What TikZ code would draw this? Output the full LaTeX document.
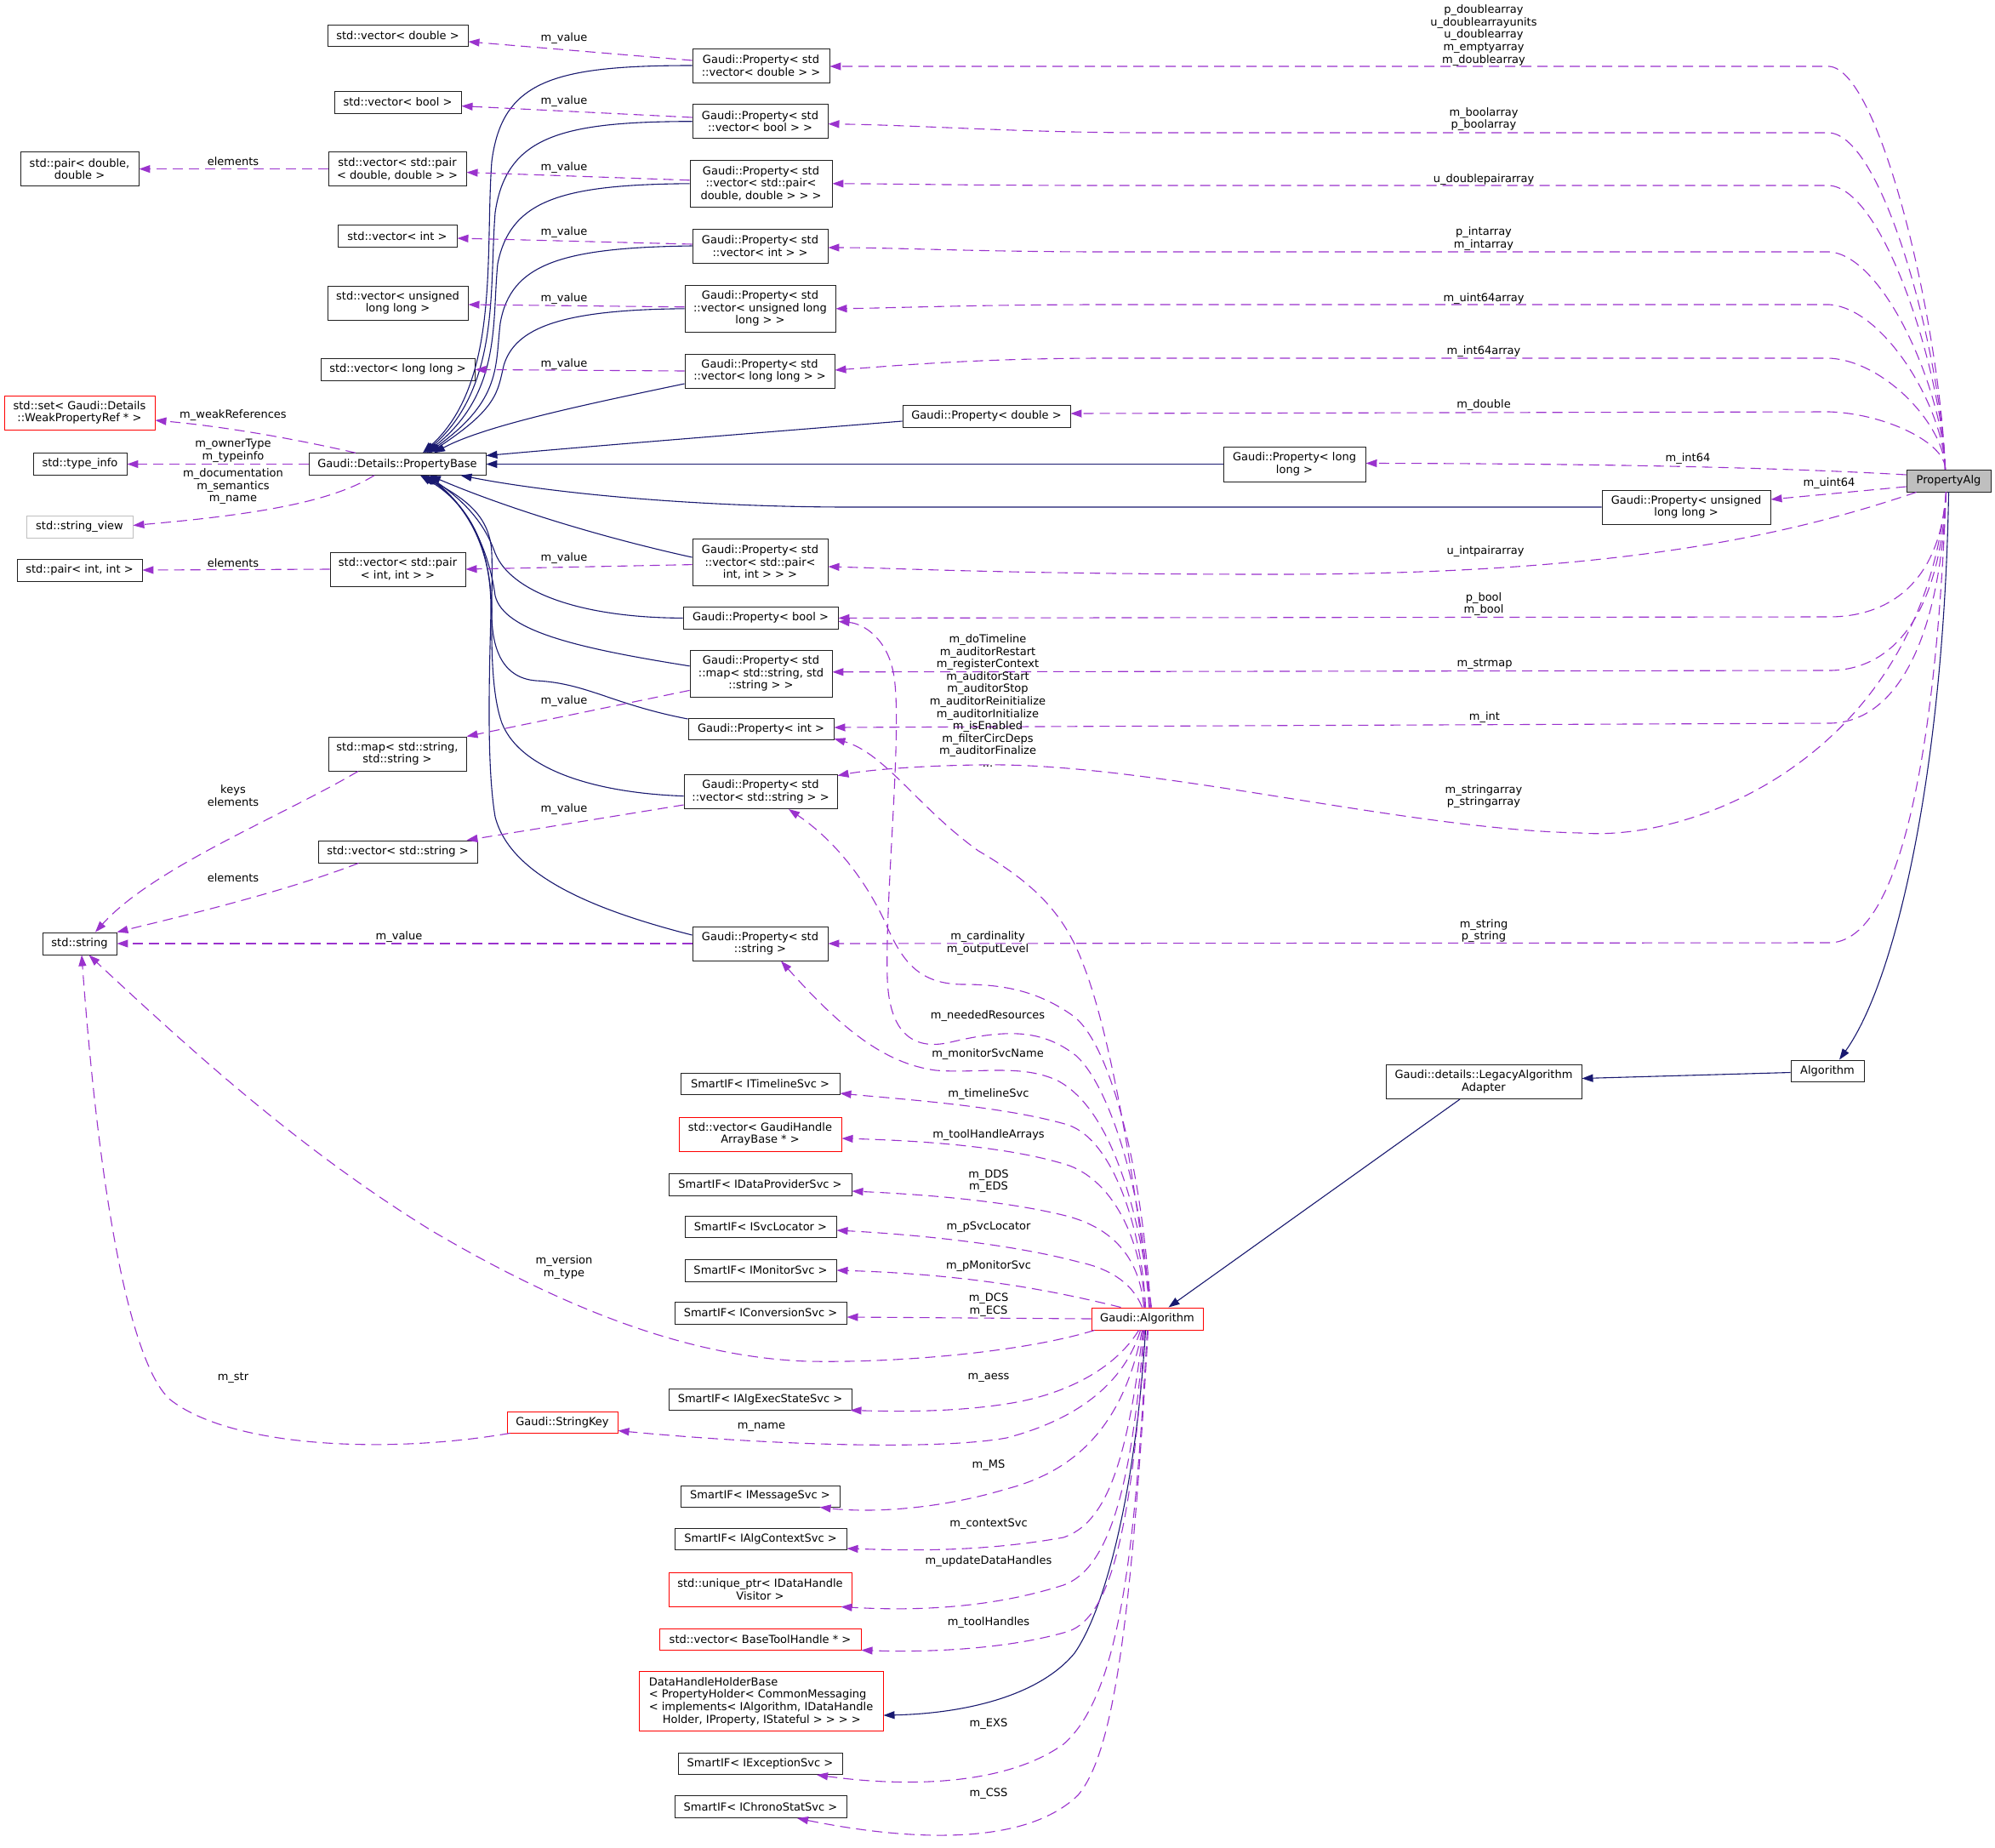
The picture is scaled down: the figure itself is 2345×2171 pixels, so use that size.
\documentclass[tikz,border=0pt]{standalone}
\usepackage{fontspec}
\setmainfont{DejaVu Sans}
\usetikzlibrary{arrows.meta,calc}
\definecolor{navyc}{HTML}{191970}
\definecolor{purp}{HTML}{9A32CD}
\definecolor{gry}{HTML}{BFBFBF}
\definecolor{bord}{HTML}{202020}
\tikzset{
 box/.style={draw=bord, line width=0.95pt, fill=white, rectangle, inner sep=0pt, align=center, font=\fontsize{13}{14.6}\selectfont},
 redbox/.style={box, draw=red},
 sz/.style 2 args={minimum width=#1pt, minimum height=#2pt},
 lbl/.style={inner sep=0pt, align=center, font=\fontsize{13}{14.6}\selectfont},
 inh/.style={draw=navyc, line width=1.1pt, -{Triangle[length=13pt,width=9pt]}},
 use/.style={draw=purp, line width=1.1pt, dash pattern=on 12pt off 7pt, -{Triangle[length=13pt,width=9pt]}},
}
\begin{document}
\begin{tikzpicture}[x=1pt,y=-1pt]
\useasboundingbox (0,0) rectangle (2345,2171);
\fill[white] (0,0) rectangle (2345,2171);
% ---------------- nodes ----------------
\node[box,sz={165}{25}] (vdouble) at (467.5,41.5) {std::vector< double >};
\node[box,sz={161}{40}] (pvdouble) at (894.5,77) {Gaudi::Property< std\\::vector< double > >};
\node[box,sz={149}{26}] (vbool) at (467.5,120) {std::vector< bool >};
\node[box,sz={159}{40}] (pvbool) at (893.5,142.7) {Gaudi::Property< std\\::vector< bool > >};
\node[box,sz={139}{40}] (pairdd) at (93.5,198.6) {std::pair< double,\\double >};
\node[box,sz={162}{40}] (vpairdd) at (467,198.6) {std::vector< std::pair\\< double, double > >};
\node[box,sz={167}{54.5}] (pvpairdd) at (894.5,215.8) {Gaudi::Property< std\\::vector< std::pair<\\double, double > > >};
\node[box,sz={140}{26}] (vint) at (467,277.5) {std::vector< int >};
\node[box,sz={159}{40}] (pvint) at (893.5,289) {Gaudi::Property< std\\::vector< int > >};
\node[box,sz={165}{40}] (vull) at (467.5,356) {std::vector< unsigned\\long long >};
\node[box,sz={177}{54.5}] (pvull) at (893.5,362.8) {Gaudi::Property< std\\::vector< unsigned long\\long > >};
\node[box,sz={181}{25.5}] (vll) at (467.5,434.4) {std::vector< long long >};
\node[box,sz={176}{40}] (pvll) at (893,436) {Gaudi::Property< std\\::vector< long long > >};
\node[redbox,sz={177}{40}] (wset) at (93.5,485) {std::set< Gaudi::Details\\::WeakPropertyRef * >};
\node[box,sz={110}{25.5}] (tinfo) at (94,545.5) {std::type\_info};
\node[box,sz={208}{25.5}] (pbase) at (467,545.5) {Gaudi::Details::PropertyBase};
\node[box,draw=gry,sz={125}{26}] (sview) at (93.5,619.5) {std::string\_view};
\node[box,sz={147}{26}] (pairii) at (93.5,670) {std::pair< int, int >};
\node[box,sz={159}{40}] (vpairii) at (467.5,669) {std::vector< std::pair\\< int, int > >};
\node[box,sz={159}{55}] (pvpairii) at (893.5,661) {Gaudi::Property< std\\::vector< std::pair<\\int, int > > >};
\node[box,sz={182}{25.5}] (pbool) at (894,726.4) {Gaudi::Property< bool >};
\node[box,sz={167}{54.5}] (pmap) at (894.5,791.8) {Gaudi::Property< std\\::map< std::string, std\\::string > >};
\node[box,sz={171}{25.5}] (pint) at (894.5,857) {Gaudi::Property< int >};
\node[box,sz={162}{40}] (smap) at (467,886) {std::map< std::string,\\std::string >};
\node[box,sz={180}{40}] (pvstring) at (894,930.6) {Gaudi::Property< std\\::vector< std::string > >};
\node[box,sz={187}{26}] (vstring) at (467.5,1001) {std::vector< std::string >};
\node[box,sz={87}{26}] (sstring) at (93.5,1109) {std::string};
\node[box,sz={159}{40}] (pstring) at (893.5,1109) {Gaudi::Property< std\\::string >};
\node[box,sz={197}{26}] (pdouble) at (1159.5,489) {Gaudi::Property< double >};
\node[box,sz={167}{41}] (pll) at (1521.5,545.5) {Gaudi::Property< long\\long >};
\node[box,sz={198}{40}] (pull) at (1982,596) {Gaudi::Property< unsigned\\long long >};
\node[box,fill=gry,sz={99}{26}] (palg) at (2290.5,565) {PropertyAlg};
\node[box,sz={86}{25}] (algo) at (2148,1258.5) {Algorithm};
\node[box,sz={230}{40}] (legacy) at (1744,1271.5) {Gaudi::details::LegacyAlgorithm\\Adapter};
\node[redbox,sz={131}{26}] (galg) at (1348.5,1550) {Gaudi::Algorithm};
\node[box,sz={187}{25}] (timeline) at (893.5,1274) {SmartIF< ITimelineSvc >};
\node[redbox,sz={191}{40}] (gharr) at (893.5,1333) {std::vector< GaudiHandle\\ArrayBase * >};
\node[box,sz={215}{26}] (dprov) at (893.5,1392) {SmartIF< IDataProviderSvc >};
\node[box,sz={178}{25}] (svcloc) at (894,1441.5) {SmartIF< ISvcLocator >};
\node[box,sz={178}{26}] (monsvc) at (894,1493) {SmartIF< IMonitorSvc >};
\node[box,sz={202}{26}] (convsvc) at (894,1543) {SmartIF< IConversionSvc >};
\node[box,sz={215}{25}] (aess) at (893.5,1644.5) {SmartIF< IAlgExecStateSvc >};
\node[redbox,sz={130}{25}] (skey) at (661,1671.5) {Gaudi::StringKey};
\node[box,sz={187}{25}] (msgsvc) at (893.5,1758.5) {SmartIF< IMessageSvc >};
\node[box,sz={202}{25}] (ctxsvc) at (894,1809) {SmartIF< IAlgContextSvc >};
\node[redbox,sz={215}{40}] (uptr) at (893.5,1868) {std::unique\_ptr< IDataHandle\\Visitor >};
\node[redbox,sz={237}{25}] (btool) at (893.5,1926.5) {std::vector< BaseToolHandle * >};
\node[redbox,sz={287}{70},align=left] (dhhb) at (894.5,1999.5) {DataHandleHolderBase\\< PropertyHolder< CommonMessaging\\< implements< IAlgorithm, IDataHandle\\\hspace*{16pt}Holder, IProperty, IStateful > > > >};
\node[box,sz={193}{25}] (excsvc) at (893.5,2073) {SmartIF< IExceptionSvc >};
\node[box,sz={202}{26}] (chrono) at (894,2123.5) {SmartIF< IChronoStatSvc >};
% ---------------- inheritance (navy) ----------------
\draw[inh] (pvdouble.west) .. controls (650,77) and (590,95) .. (578,190) .. controls (570,300) and (588,450) .. ($(pbase.north)+(30,0)$);
\draw[inh] (pvbool.west) .. controls (660,143) and (595,160) .. (582,250) .. controls (575,340) and (588,455) .. ($(pbase.north)+(32,0)$);
\draw[inh] (pvpairdd.west) .. controls (660,217) and (600,235) .. (585,310) .. controls (578,380) and (590,462) .. ($(pbase.north)+(34,0)$);
\draw[inh] (pvint.west) .. controls (660,291) and (600,310) .. (588,380) .. controls (582,430) and (590,470) .. ($(pbase.north)+(36,0)$);
\draw[inh] (pvull.west) .. controls (660,364) and (605,385) .. (592,430) .. controls (585,460) and (585,480) .. ($(pbase.north)+(38,0)$);
\draw[inh] ($(pvll.west)+(0,15)$) .. controls (690,475) and (570,500) .. ($(pbase.north)+(43,0)$);
\draw[inh] ($(pdouble.west)+(0,6)$) .. controls (850,512) and (700,524) .. ($(pbase.east)+(0,-10)$);
\draw[inh] (pll.west) -- (pbase.east);
\draw[inh] (pull.west) -- (1000,596) .. controls (820,596) and (650,580) .. ($(pbase.south east)+(-30,0)$);
\draw[inh] ($(pvpairii.west)+(0,-6)$) .. controls (700,630) and (590,595) .. ($(pbase.south)+(38,0)$);
\draw[inh] (pbool.west) .. controls (680,726) and (600,695) .. (582,650) .. controls (568,610) and (540,585) .. ($(pbase.south)+(35,0)$);
\draw[inh] ($(pmap.west)+(0,-9)$) .. controls (680,762) and (592,742) .. (582,700) .. controls (574,640) and (545,590) .. ($(pbase.south)+(33,0)$);
\draw[inh] ($(pint.west)+(0,-12)$) .. controls (720,828) and (690,803) .. (630,800) .. controls (592,797) and (578,765) .. (578,720) .. controls (578,640) and (545,590) .. ($(pbase.south)+(31,0)$);
\draw[inh] ($(pvstring.west)+(0,5)$) .. controls (700,932) and (612,905) .. (590,850) .. controls (572,800) and (580,700) .. (578,650) .. controls (576,605) and (545,585) .. ($(pbase.south)+(29,0)$);
\draw[inh] ($(pstring.west)+(0,-10)$) .. controls (700,1070) and (600,1030) .. (582,960) .. controls (572,900) and (575,800) .. (577,720) .. controls (578,640) and (550,592) .. ($(pbase.south)+(27,0)$);
\draw[inh] (palg.south) .. controls (2285,900) and (2230,1150) .. ($(algo.north)+(14,0)$);
\draw[inh] ($(algo.west)+(0,2)$) -- ($(legacy.east)+(0,-4)$);
\draw[inh] ($(legacy.south)+(-28,0)$) -- ($(galg.north)+(25,0)$);
\draw[inh] ($(galg.south)+(-2,0)$) .. controls (1335,1750) and (1300,1890) .. (1263,1943) .. controls (1220,1995) and (1130,2014) .. ($(dhhb.east)+(0,16.5)$);
% ---------------- usage (purple dashed), left part ----------------
\draw[use] ($(pvdouble.west)+(0,-6)$) -- ($(vdouble.east)+(0,7.5)$);
\draw[use] ($(pvbool.west)+(0,-4.7)$) -- ($(vbool.east)+(0,4.6)$);
\draw[use] ($(pvpairdd.west)+(0,-4)$) -- ($(vpairdd.east)+(0,4)$);
\draw[use] ($(pvint.west)+(0,-2)$) -- ($(vint.east)+(0,2.5)$);
\draw[use] ($(pvull.west)+(0,-2)$) -- ($(vull.east)+(0,2)$);
\draw[use] (pvll.west) -- (vll.east);
\draw[use] (vpairdd.west) -- (pairdd.east);
\draw[use] ($(pbase.north)+(-49,0)$) .. controls (330,512) and (250,500) .. ($(wset.east)+(0,9)$);
\draw[use] (pbase.west) -- (tinfo.east);
\draw[use] ($(pbase.south)+(-27,0)$) .. controls (390,590) and (300,605) .. ($(sview.east)+(0,-2)$);
\draw[use] (vpairii.west) -- (pairii.east);
\draw[use] ($(pvpairii.west)+(0,2.6)$) -- (vpairii.east);
\draw[use] ($(pmap.west)+(0,19.6)$) -- (smap.north east);
\draw[use] ($(smap.south)+(-46,0)$) .. controls (330,960) and (180,1020) .. ($(sstring.north)+(18.5,0)$);
\draw[use] ($(pvstring.west)+(0,15.4)$) -- ($(vstring.north east)+(-13,0)$);
\draw[use] ($(vstring.south)+(-46,0)$) .. controls (330,1050) and (200,1080) .. (sstring.north east);
\draw[use] (pstring.west) -- (sstring.east);
\draw[use] ($(galg.south west)+(4,0)$) .. controls (1200,1590) and (1050,1602) .. (950,1600) .. controls (800,1595) and (650,1530) .. (510,1448) .. controls (350,1350) and (220,1230) .. ($(sstring.south)+(11,0)$);
\draw[use] ($(skey.south west)+(4,0)$) .. controls (450,1710) and (270,1700) .. (200,1645) .. controls (160,1610) and (120,1450) .. ($(sstring.south)+(2.5,0)$);
% ---------------- usage from PropertyAlg ----------------
\draw[use] ($(palg.north)+(-4,0)$) .. controls (2280,380) and (2210,82) .. (2150,78) -- ($(pvdouble.east)+(0,1)$);
\draw[use] ($(palg.north)+(-4,0)$) .. controls (2282,420) and (2215,160) .. (2150,156) -- (1350,156) .. controls (1200,156) and (1080,147) .. ($(pvbool.east)+(0,3)$);
\draw[use] ($(palg.north)+(-4,0)$) .. controls (2283,440) and (2215,222) .. (2150,218) -- (1300,218) .. controls (1150,218) and (1050,216) .. (pvpairdd.east);
\draw[use] ($(palg.north)+(-4,0)$) .. controls (2284,460) and (2215,300) .. (2150,296) -- (1300,296) .. controls (1150,296) and (1050,291) .. ($(pvint.east)+(0,2)$);
\draw[use] ($(palg.north)+(-4,0)$) .. controls (2285,480) and (2215,362) .. (2150,358) -- (1300,358) .. controls (1150,358) and (1050,362) .. (pvull.east);
\draw[use] ($(palg.north)+(-4,0)$) .. controls (2286,500) and (2215,424) .. (2150,421) -- (1300,421) .. controls (1150,421) and (1050,430) .. ($(pvll.east)+(0,-1)$);
\draw[use] ($(palg.north)+(-4,0)$) .. controls (2287,520) and (2215,486) .. (2150,484) -- ($(pdouble.east)+(0,-3)$);
\draw[use] ($(palg.west)+(0,-7)$) .. controls (2100,550) and (1900,545) .. ($(pll.east)+(0,-1)$);
\draw[use] ($(palg.west)+(0,7)$) -- ($(pull.east)+(0,-9)$);
\draw[use] ($(palg.south west)+(12,0)$) .. controls (2100,630) and (1900,675) .. (1500,675) .. controls (1200,675) and (1050,668) .. ($(pvpairii.east)+(0,5)$);
\draw[use] ($(palg.south)+(-3,0)$) .. controls (2280,690) and (2215,725) .. (2150,725) -- (pbool.east);
\draw[use] ($(palg.south)+(-3,0)$) .. controls (2280,730) and (2220,788) .. (2150,788) -- ($(pmap.east)+(0,-2)$);
\draw[use] ($(palg.south)+(-3,0)$) .. controls (2280,770) and (2220,850) .. (2150,850) -- ($(pint.east)+(0,-2)$);
\draw[use] ($(palg.south)+(-3,0)$) .. controls (2260,880) and (2000,990) .. (1858,979) .. controls (1650,975) and (1350,895) .. (1150,899) .. controls (1080,900) and (1020,905) .. ($(pvstring.east)+(0,-19)$);
\draw[use] ($(palg.south)+(-3,0)$) .. controls (2275,900) and (2230,1108) .. (2150,1108) -- (pstring.east);
% ---------------- usage from Gaudi::Algorithm ----------------
\draw[use] ($(galg.north)+(-2,0)$) .. controls (1343,1450) and (1310,1340) .. (1255,1322) .. controls (1180,1300) and (1060,1292) .. ($(timeline.east)+(0,11)$);
\draw[use] ($(galg.north)+(-3,0)$) .. controls (1343,1460) and (1310,1390) .. (1257,1370) .. controls (1180,1345) and (1060,1340) .. ($(gharr.east)+(0,5)$);
\draw[use] ($(galg.north)+(-4,0)$) .. controls (1340,1480) and (1310,1445) .. (1257,1430) .. controls (1180,1410) and (1070,1403) .. ($(dprov.east)+(0,8)$);
\draw[use] ($(galg.north)+(-6,0)$) .. controls (1330,1505) and (1300,1490) .. (1267,1483) .. controls (1180,1460) and (1060,1450) .. ($(svcloc.east)+(0,4.5)$);
\draw[use] ($(galg.north)+(-31,0)$) .. controls (1250,1520) and (1150,1498) .. (monsvc.east);
\draw[use] (galg.west) -- ($(convsvc.east)+(0,5)$);
\draw[use] ($(galg.south)+(-10,0)$) .. controls (1310,1610) and (1250,1640) .. (1183,1650) .. controls (1120,1660) and (1050,1659) .. ($(aess.south east)+(-2,0)$);
\draw[use] ($(galg.south)+(-8,0)$) .. controls (1320,1630) and (1260,1670) .. (1183,1690) .. controls (1100,1705) and (900,1698) .. ($(skey.east)+(0,10)$);
\draw[use] ($(galg.south)+(-6,0)$) .. controls (1320,1680) and (1260,1730) .. (1183,1750) .. controls (1100,1775) and (1020,1778) .. ($(msgsvc.south)+(70,0)$);
\draw[use] ($(galg.south)+(-5,0)$) .. controls (1325,1720) and (1300,1790) .. (1250,1807) .. controls (1150,1825) and (1060,1822) .. ($(ctxsvc.east)+(0,11)$);
\draw[use] ($(galg.south)+(-4,0)$) .. controls (1330,1760) and (1300,1845) .. (1250,1863) .. controls (1150,1895) and (1050,1892) .. ($(uptr.south east)+(-13,0)$);
\draw[use] ($(galg.south)+(-3,0)$) .. controls (1330,1820) and (1300,1900) .. (1257,1917) .. controls (1180,1940) and (1080,1942) .. (btool.south east);
\draw[use] (galg.south) .. controls (1335,1800) and (1320,1990) .. (1250,2050) .. controls (1180,2100) and (1060,2100) .. ($(excsvc.south)+(66.5,0)$);
\draw[use] ($(galg.south)+(1,0)$) .. controls (1330,1900) and (1310,2060) .. (1267,2110) .. controls (1200,2175) and (1050,2160) .. ($(chrono.south)+(43,0)$);
\draw[use] ($(galg.north)+(2,0)$) .. controls (1345,1400) and (1300,1260) .. (1257,1235) .. controls (1220,1210) and (1180,1210) .. (1117,1225) .. controls (1070,1236) and (1045,1210) .. (1043,1150) .. controls (1040,1050) and (1062,850) .. (1050,790) .. controls (1042,750) and (1015,733) .. ($(pbool.east)+(0,4)$);
\draw[use] ($(galg.north)+(3,0)$) .. controls (1330,1350) and (1300,1200) .. (1273,1133) .. controls (1250,1070) and (1210,1035) .. (1150,1000) .. controls (1080,950) and (1040,885) .. ($(pint.south east)+(0,-2)$);
\draw[use] ($(galg.north)+(4,0)$) .. controls (1340,1350) and (1300,1220) .. (1260,1193) .. controls (1220,1165) and (1180,1157) .. (1133,1157) .. controls (1080,1157) and (1060,1130) .. (1040,1083) .. controls (1010,1020) and (970,980) .. ($(pvstring.south)+(33,0)$);
\draw[use] ($(galg.north)+(5,0)$) .. controls (1335,1400) and (1300,1300) .. (1243,1270) .. controls (1200,1250) and (1150,1262) .. (1100,1258) .. controls (1040,1250) and (990,1210) .. ($(pstring.south)+(24.5,0)$);
% ---------------- labels ----------------
\node[lbl] (l01) at (663,44.8) {m\_value};
\node[lbl] (l02) at (663,119.4) {m\_value};
\node[lbl] (l03) at (663,196.7) {m\_value};
\node[lbl] (l04) at (663,272.9) {m\_value};
\node[lbl] (l05) at (663,350.6) {m\_value};
\node[lbl] (l06) at (663,427.9) {m\_value};
\node[lbl] (l07) at (274,190) {elements};
\node[lbl] (l08) at (274,488) {m\_weakReferences};
\node[lbl] (l09) at (274,529.5) {m\_ownerType\\m\_typeinfo};
\node[lbl] (l10) at (274,571.7) {m\_documentation\\m\_semantics\\m\_name};
\node[lbl] (l11) at (274,662) {elements};
\node[lbl] (l12) at (663,656.4) {m\_value};
\node[lbl] (l13) at (663,823.6) {m\_value};
\node[lbl] (l14) at (274,935) {keys\\elements};
\node[lbl] (l15) at (663,951) {m\_value};
\node[lbl] (l16) at (274,1031.5) {elements};
\node[lbl] (l17) at (469,1101) {m\_value};
\node[lbl] (l18) at (274,1619) {m\_str};
\node[lbl] (l19) at (663,1489.5) {m\_version\\m\_type};
\node[lbl] (r01) at (1744,41.5) {p\_doublearray\\u\_doublearrayunits\\u\_doublearray\\m\_emptyarray\\m\_doublearray};
\node[lbl] (r02) at (1744,140) {m\_boolarray\\p\_boolarray};
\node[lbl] (r03) at (1744,211) {u\_doublepairarray};
\node[lbl] (r04) at (1744,280.5) {p\_intarray\\m\_intarray};
\node[lbl] (r05) at (1744,351) {m\_uint64array};
\node[lbl] (r06) at (1744,413) {m\_int64array};
\node[lbl] (r07) at (1744,476) {m\_double};
\node[lbl] (r08) at (1984,538.6) {m\_int64};
\node[lbl] (r09) at (2150,568) {m\_uint64};
\node[lbl] (r10) at (1746,648) {u\_intpairarray};
\node[lbl] (r11) at (1744,710) {p\_bool\\m\_bool};
\node[lbl] (r12) at (1745,780) {m\_strmap};
\node[lbl] (r13) at (1745,843) {m\_int};
\node[lbl] (r14) at (1744,936) {m\_stringarray\\p\_stringarray};
\node[lbl] (r15) at (1744,1094) {m\_string\\p\_string};
\node[lbl] (g01) at (1161,823.5) {m\_doTimeline\\m\_auditorRestart\\m\_registerContext\\m\_auditorStart\\m\_auditorStop\\m\_auditorReinitialize\\m\_auditorInitialize\\m\_isEnabled\\m\_filterCircDeps\\m\_auditorFinalize\\...};
\node[lbl] (g02) at (1161,1108.5) {m\_cardinality\\m\_outputLevel};
\node[lbl] (g03) at (1161,1194.5) {m\_neededResources};
\node[lbl] (g04) at (1161,1239) {m\_monitorSvcName};
\node[lbl] (g05) at (1162,1286) {m\_timelineSvc};
\node[lbl] (g06) at (1162,1334.5) {m\_toolHandleArrays};
\node[lbl] (g07) at (1162,1388) {m\_DDS\\m\_EDS};
\node[lbl] (g08) at (1162,1442) {m\_pSvcLocator};
\node[lbl] (g09) at (1162,1488.5) {m\_pMonitorSvc};
\node[lbl] (g10) at (1162,1533.5) {m\_DCS\\m\_ECS};
\node[lbl] (g11) at (1162,1619) {m\_aess};
\node[lbl] (g12) at (895,1677) {m\_name};
\node[lbl] (g13) at (1162,1722.5) {m\_MS};
\node[lbl] (g14) at (1162,1791.5) {m\_contextSvc};
\node[lbl] (g15) at (1162,1835.5) {m\_updateDataHandles};
\node[lbl] (g16) at (1162,1907) {m\_toolHandles};
\node[lbl] (g17) at (1162,2026.5) {m\_EXS};
\node[lbl] (g18) at (1162,2108) {m\_CSS};
\end{tikzpicture}
\end{document}
